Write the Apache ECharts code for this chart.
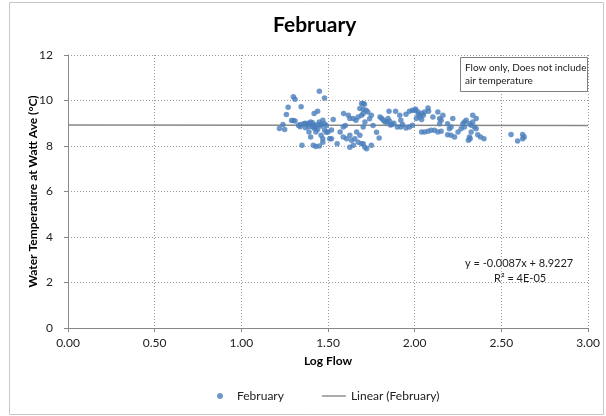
<!DOCTYPE html>
<html>
<head>
<meta charset="utf-8">
<script src="https://cdn.jsdelivr.net/npm/echarts@6/dist/echarts.min.js"></script>
<style>
  html, body { margin: 0; padding: 0; background: #fff; }
  #chart { width: 606px; height: 416px; }
</style>
</head>
<body>
<div id="chart"></div>
<script>
// Log flow vs. water temperature, February observations
const logFlow = [
  1.22, 1.25, 1.24, 1.26, 1.27, 1.29, 1.30, 1.30, 1.31, 1.31, 1.33, 1.34, 1.345, 1.35, 1.34, 1.36, 1.37, 1.37,
  1.38, 1.39, 1.39, 1.40, 1.40, 1.41, 1.415, 1.42, 1.42, 1.43, 1.43, 1.43, 1.44, 1.44, 1.45, 1.45, 1.46, 1.46,
  1.47, 1.47, 1.47, 1.48, 1.48, 1.49, 1.50, 1.51, 1.52, 1.53, 1.52,
  1.39, 1.41, 1.42, 1.44, 1.45, 1.46, 1.48, 1.49,
  1.553, 1.57, 1.59, 1.588, 1.588, 1.60, 1.607, 1.617, 1.626, 1.626, 1.626, 1.636, 1.646, 1.646, 1.655, 1.661,
  1.665, 1.674, 1.674, 1.684, 1.684, 1.694, 1.694, 1.694, 1.703, 1.703, 1.703, 1.703, 1.703, 1.71, 1.713, 1.713,
  1.72, 1.723, 1.73, 1.74, 1.75, 1.75, 1.76,
  1.78, 1.795, 1.80, 1.81, 1.82, 1.83, 1.84, 1.846, 1.852, 1.856, 1.87, 1.88, 1.89, 1.90, 1.914, 1.92, 1.92,
  1.95, 1.95, 1.97, 1.97, 1.987, 1.987, 2.0, 2.006, 1.86, 1.93,
  2.01, 2.02, 2.02, 2.03, 2.04, 2.04, 2.04, 2.05, 2.057, 2.057, 2.077, 2.077, 2.08, 2.095, 2.105, 2.115, 2.134,
  2.134, 2.144, 2.144, 2.153, 2.153, 2.163, 2.19, 2.19, 2.20, 2.21, 2.21, 2.22, 2.23, 2.25, 2.268, 2.278, 2.287,
  2.287, 2.297, 2.31, 2.316, 2.316, 2.32, 2.326, 2.326, 2.335, 2.335, 2.345, 2.355, 2.355, 2.364, 2.38, 2.40,
  2.556, 2.594, 2.623, 2.632, 2.623
];
const waterTemp = [
  8.77, 8.73, 8.95, 9.38, 9.70, 9.12, 9.12, 10.16, 10.06, 9.10, 8.90, 8.95, 9.72, 8.03, 8.85, 8.98, 8.80, 9.00,
  8.95, 8.62, 8.85, 9.05, 8.40, 8.85, 8.03, 9.43, 8.92, 7.98, 8.62, 8.80, 9.53, 8.95, 10.41, 8.00, 8.47, 8.88,
  9.13, 8.32, 8.17, 10.11, 8.70, 8.90, 8.62, 8.32, 8.70, 9.16, 8.32,
  9.00, 9.02, 8.78, 8.72, 9.05, 8.95, 8.98, 8.60,
  8.10, 8.62, 9.43, 8.84, 8.40, 8.90, 8.32, 9.35, 9.21, 8.47, 7.95, 8.25, 9.21, 8.03, 8.32, 9.13,
  8.62, 9.28, 8.17, 9.65, 8.47, 9.87, 9.35, 8.10, 9.87, 9.62, 9.43, 8.84, 8.10, 9.84, 9.06, 7.95,
  9.57, 7.88, 9.50, 9.20, 9.35, 8.03, 8.90,
  8.60, 8.35, 9.28, 9.21, 9.13, 9.06, 9.06, 9.21, 9.53, 9.09, 8.95, 9.00, 9.53, 8.84, 9.35, 9.13, 8.84,
  8.79, 9.40, 8.84, 9.53, 9.57, 8.91, 9.57, 9.62, 8.92, 8.95,
  9.21, 9.50, 9.38, 9.28, 9.43, 9.16, 8.62, 9.35, 9.50, 8.62, 9.67, 8.65, 9.53, 8.69, 9.28, 8.69, 9.50,
  8.62, 9.21, 8.98, 9.13, 8.65, 9.35, 8.98, 8.49, 8.76, 8.84, 8.47, 9.21, 8.40, 8.62, 8.76, 8.98, 8.84,
  9.06, 9.13, 8.25, 8.98, 8.40, 8.32, 8.91, 8.62, 9.06, 9.35, 8.84, 9.21, 8.76, 8.49, 8.40, 8.32,
  8.51, 8.22, 8.51, 8.40, 8.32
];

// Least-squares fit shown on the chart
const trendSlope = -0.0087;
const trendIntercept = 8.9227;
const trendRange = [0, 3];

const xTicks = [0, 0.5, 1, 1.5, 2, 2.5, 3];
const yTicks = [0, 2, 4, 6, 8, 10, 12];

const FONT = 'Lato, "Open Sans", sans-serif';
const BLUE = '#4A7EBB';
const GREY_LINE = '#878787';

const points = logFlow.map((x, i) => [x, waterTemp[i]]);
const trend = trendRange.map(x => [x, trendSlope * x + trendIntercept]);

const chart = echarts.init(document.getElementById('chart'), null, { renderer: 'canvas' });

chart.setOption({
  animation: false,
  backgroundColor: '#ffffff',
  title: {
    text: 'February',
    left: 268,
    top: 10,
    textStyle: { fontFamily: FONT, fontSize: 21, fontWeight: 'bold', color: '#000' }
  },
  legend: {
    bottom: 9,
    left: 212,
    itemGap: 38,
    itemWidth: 24,
    itemHeight: 6,
    textStyle: { fontFamily: FONT, fontSize: 12, color: '#222' },
    data: [
      { name: 'February', icon: 'circle' },
      { name: 'Linear (February)', icon: 'path://M0,0h24v1.4h-24z' }
    ]
  },
  grid: { left: 68, right: 18, top: 55, bottom: 88 },
  xAxis: {
    type: 'value',
    min: xTicks[0],
    max: xTicks[xTicks.length - 1],
    interval: xTicks[1] - xTicks[0],
    name: 'Log Flow',
    nameLocation: 'middle',
    nameGap: 27,
    nameMoveOverlap: false,
    nameTextStyle: { fontFamily: FONT, fontSize: 12, fontWeight: 'bold', color: '#000' },
    axisLine: { onZero: false, lineStyle: { color: GREY_LINE, width: 1 } },
    axisTick: { show: true, length: 4, lineStyle: { color: GREY_LINE } },
    axisLabel: {
      fontFamily: FONT, fontSize: 12, color: '#222', margin: 9,
      formatter: v => v.toFixed(2)
    },
    splitLine: { show: true, lineStyle: { color: '#9a9a9a', type: [1, 2], width: 1 } }
  },
  yAxis: {
    type: 'value',
    min: yTicks[0],
    max: yTicks[yTicks.length - 1],
    interval: yTicks[1] - yTicks[0],
    name: 'Water Temperature at Watt Ave (°C)',
    nameLocation: 'middle',
    nameGap: 29,
    nameMoveOverlap: false,
    nameTextStyle: { fontFamily: FONT, fontSize: 12, fontWeight: 'bold', color: '#000' },
    axisLine: { show: true, onZero: false, lineStyle: { color: GREY_LINE, width: 1 } },
    axisTick: { show: true, length: 4, lineStyle: { color: GREY_LINE } },
    axisLabel: { fontFamily: FONT, fontSize: 12, color: '#222', margin: 15 },
    splitLine: { show: true, lineStyle: { color: '#9a9a9a', type: [1, 2], width: 1 } }
  },
  series: [
    {
      name: 'February',
      type: 'scatter',
      data: points,
      symbol: 'circle',
      symbolSize: 5.5,
      itemStyle: { color: BLUE },
      z: 3
    },
    {
      name: 'Linear (February)',
      type: 'line',
      data: trend,
      symbol: 'none',
      showSymbol: false,
      lineStyle: { color: GREY_LINE, width: 1.5 },
      itemStyle: { color: GREY_LINE },
      z: 2
    }
  ],
  graphic: [
    {
      type: 'rect',
      shape: { x: 9.5, y: 2.5, width: 594, height: 412 },
      style: { fill: 'none', stroke: '#c8c8c8', lineWidth: 1 },
      z: -1
    },
    {
      type: 'rect',
      shape: { x: 460.5, y: 57.5, width: 127, height: 34 },
      style: { fill: '#fff', stroke: '#7f7f7f', lineWidth: 1 },
      z: 10
    },
    {
      type: 'text',
      left: 465,
      top: 61,
      style: {
        text: 'Flow only, Does not include\nair temperature',
        font: '10px ' + FONT,
        fill: '#222',
        lineHeight: 13
      },
      z: 11
    },
    {
      type: 'text',
      left: 465,
      top: 258,
      style: {
        text: 'y = -0.0087x + 8.9227',
        font: '11px ' + FONT,
        fill: '#222'
      },
      z: 11
    },
    {
      type: 'text',
      left: 494,
      top: 273,
      style: {
        text: 'R² = 4E-05',
        font: '11px ' + FONT,
        fill: '#222'
      },
      z: 11
    }
  ]
});
</script>
</body>
</html>
